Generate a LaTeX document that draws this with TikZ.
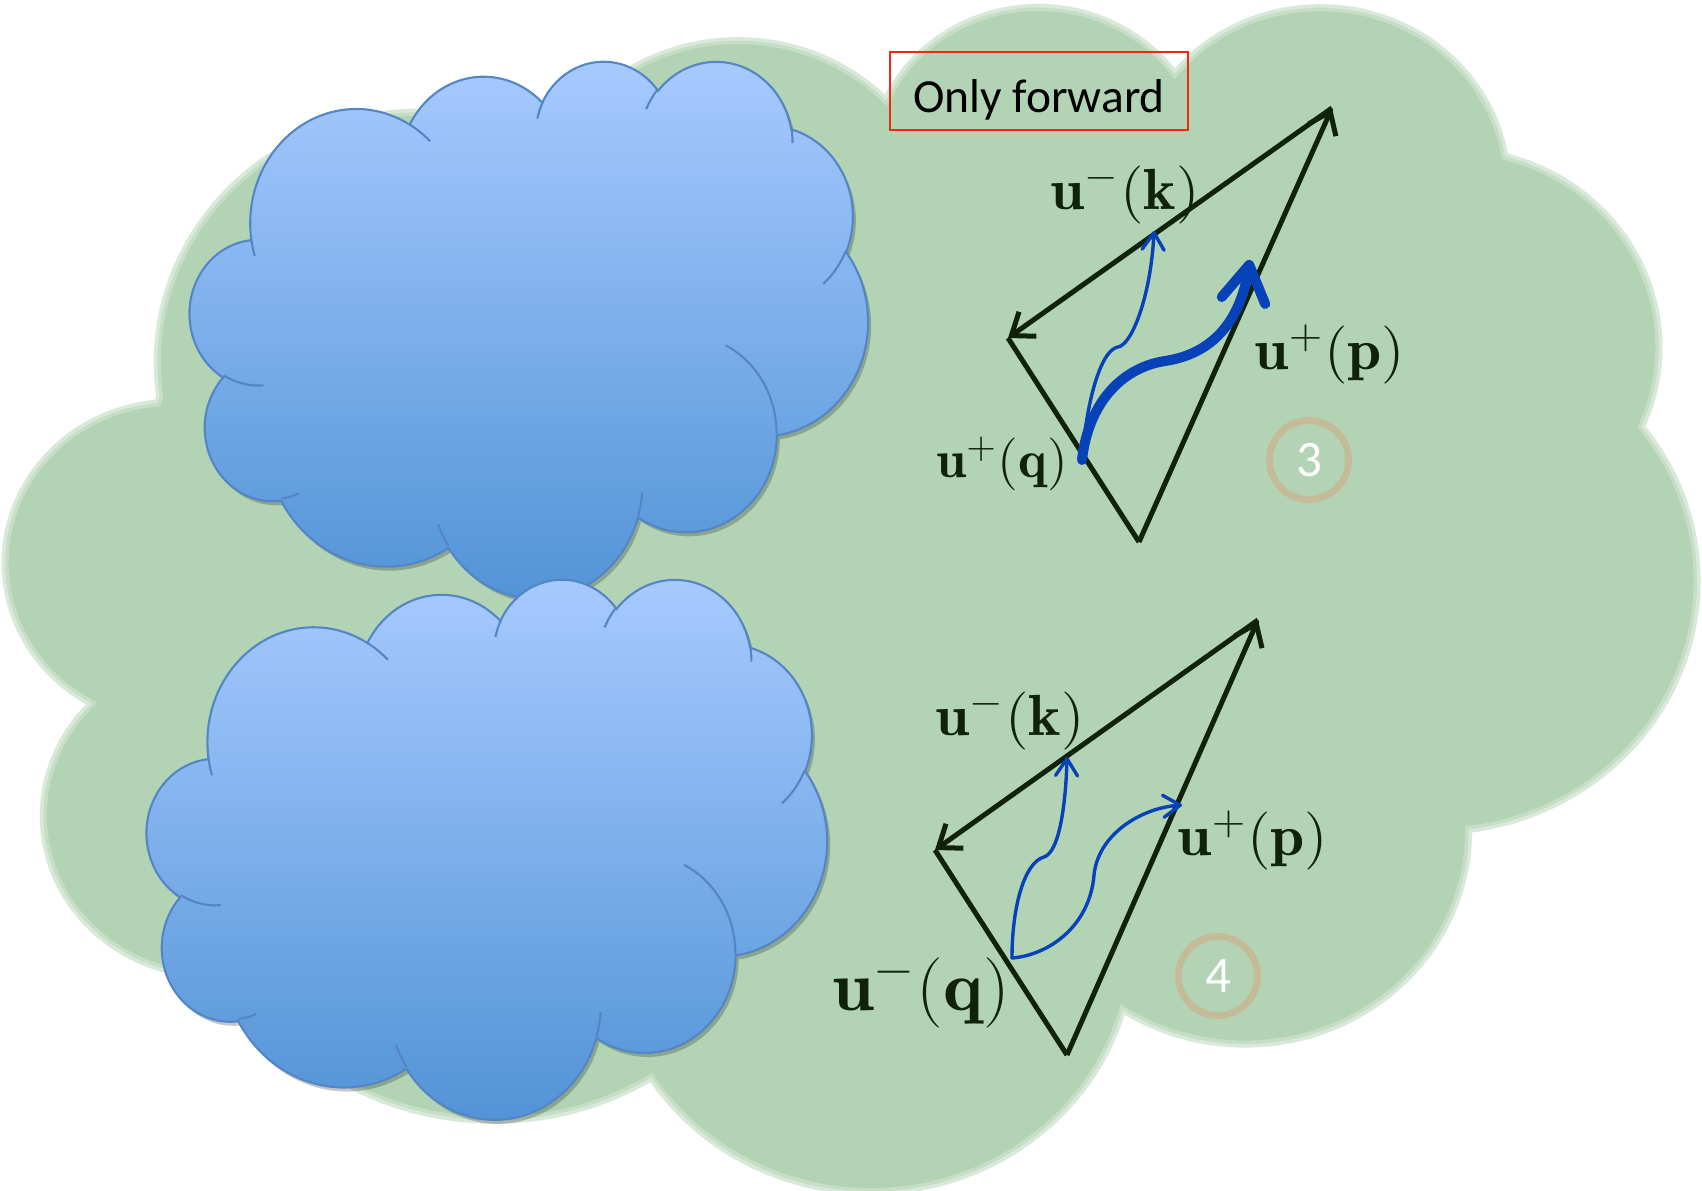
\RequirePackage{fix-cm}
\documentclass[tikz,border=0pt]{standalone}
\usepackage{fontspec}
\usepackage{amsmath,amssymb}
\usepackage{tikz}
\usetikzlibrary{arrows.meta}
\newfontfamily\calibri{Carlito}

\definecolor{bggreen}{RGB}{179,212,180}
\definecolor{blobtop}{RGB}{168,203,255}
\definecolor{blobbot}{RGB}{80,146,214}
\definecolor{blobedge}{RGB}{84,134,198}
\definecolor{vecgreen}{RGB}{16,34,10}
\definecolor{flowblue}{RGB}{8,66,184}
\definecolor{ringtan}{RGB}{196,188,152}
\definecolor{tagred}{RGB}{240,40,20}

%% ── cloud outline (office cloud, 4320 x 4320 box, angles in degrees) ────
\newcommand{\cloudarc}[4]{arc[x radius=#1, y radius=#2,
  start angle={atan2(#1*sin(#3),#2*cos(#3))},
  delta angle={mod(atan2(#1*sin(#3+#4),#2*cos(#3+#4))-atan2(#1*sin(#3),#2*cos(#3))+720,360)}]}
\newcommand{\cloudpath}{(390,1437)
  \cloudarc{675.3}{919.0}{-190.4875}{123.7805}
  \cloudarc{533.3}{726.7}{-144.1024}{89.9452}
  \cloudarc{436.5}{594.5}{-145.8079}{99.7230}
  \cloudarc{485.7}{659.5}{-130.9861}{117.2417}
  \cloudarc{533.3}{727.3}{-78.7089}{109.0269}
  \cloudarc{677.5}{922.0}{-46.2673}{130.2690}
  \cloudarc{578.5}{786.7}{0.6250}{114.0333}
  \cloudarc{675.2}{921.5}{22.4516}{115.1726}
  \cloudarc{772.0}{1054.3}{66.2426}{75.7110}
  \cloudarc{436.0}{591.8}{-274.9421}{146.7356}
  \cloudarc{434.5}{594.5}{-246.8285}{152.5189} -- cycle}
\newcommand{\cloudpuffs}{(469.3,2617.7) \cloudarc{434.5}{594.5}{86.7420}{26.4295}
  (692.8,3489.9) \cloudarc{436.0}{591.8}{73.6105}{11.4475}
  (1647.8,3909.0) \cloudarc{675.2}{921.5}{137.6242}{14.0811}
  (2882.7,3475.1) \cloudarc{675.2}{921.5}{6.4533}{15.9984}
  (3412.9,2295.4) \cloudarc{578.5}{786.7}{-70.2924}{70.9174}
  (4179.8,1535.4) \cloudarc{533.3}{727.3}{30.3180}{27.7515}
  (3832.4,542.6) \cloudarc{485.7}{659.5}{-13.7443}{14.8589}
  (2907.8,395.2) \cloudarc{485.7}{659.5}{-149.1815}{18.1954}
  (2214.1,472.0) \cloudarc{436.5}{594.5}{-163.4943}{17.6864}
  (1400.0,519.2) \cloudarc{675.3}{919.0}{-66.7070}{12.3194}
  (412.7,1578.9) \cloudarc{675.3}{919.0}{157.6544}{11.8582}}
% #1,#2 = top left corner, #3 = width, #4 = height, #5 = style
\newcommand{\drawcloud}[5]{%
  \pgfmathsetlengthmacro\cldw{#3*0.01cm/4320}%
  \pgfmathsetlengthmacro\cldh{#4*0.01cm/4320}%
  \begin{scope}[shift={(#1,#2)}, x=\cldw, y=-\cldh]
    \path[#5] \cloudpath;
  \end{scope}}
\newcommand{\drawpuffs}[5]{%
  \pgfmathsetlengthmacro\cldw{#3*0.01cm/4320}%
  \pgfmathsetlengthmacro\cldh{#4*0.01cm/4320}%
  \begin{scope}[shift={(#1,#2)}, x=\cldw, y=-\cldh]
    \path[#5] \cloudpuffs;
  \end{scope}}

\begin{document}
\begin{tikzpicture}[
  x=0.01cm, y=-0.01cm,
  vec/.style={draw=vecgreen, line width=0.05cm,
              -{Straight Barb[length=0.2cm, width=0.3cm]}},
  side/.style={draw=vecgreen, line width=0.05cm},
  flow/.style={draw=flowblue, line width=0.034cm, line cap=round,
               -{Straight Barb[round, length=0.17cm, width=0.22cm]}},
  bigflow/.style={draw=flowblue, line width=0.1cm, line cap=round,
                  -{Straight Barb[round, length=0.36cm, width=0.44cm]}},
  lab/.style={text=vecgreen, inner sep=0pt, font=\fontsize{16.5}{19}\selectfont},
  ring/.style={circle, draw=ringtan, line width=0.07cm, minimum size=0.79cm,
               inner sep=0pt, text=white, font=\calibri\fontsize{14.5}{16}\selectfont},
  tag/.style={draw=tagred, line width=0.02cm, minimum width=2.975cm,
              minimum height=0.78cm, inner sep=0pt, text height=12pt, text depth=0pt,
              font=\calibri\fontsize{13.5}{16}\selectfont},
  blob/.style={draw=blobedge, line width=0.6pt, top color=blobtop, bottom color=blobbot},
  blobline/.style={draw=blobedge, line width=0.6pt},
  blobshadow/.style={fill=black, opacity=0.22},
]

\fill[white] (0,0) rectangle (1702,1191);
\useasboundingbox (0,0) rectangle (1702,1191);

%% ── big green cloud (soft edge) ─────────────────────────────────────────
\drawcloud{3}{0}{1697}{1191}{fill=bggreen}
\drawcloud{3}{0}{1697}{1191}{draw=white, line width=0.14cm, opacity=0.25}
\drawcloud{3}{0}{1697}{1191}{draw=white, line width=0.07cm, opacity=0.35}

%% ── blue clouds (left) ──────────────────────────────────────────────────
\drawcloud{193}{64}{678}{537}{blobshadow}
\drawcloud{190}{60}{678}{537}{blob}
\drawpuffs{190}{60}{678}{537}{blobline}

\drawcloud{150}{582}{680}{540}{blobshadow}
\drawcloud{147}{578}{680}{540}{blob}
\drawpuffs{147}{578}{680}{540}{blobline}

%% ── Only forward ────────────────────────────────────────────────────────
\node[tag] (fwd) at (1039,91) {Only forward};

%% ── triangle 3 ──────────────────────────────────────────────────────────
\coordinate (a3) at (1332,108);
\coordinate (l3) at (1008,338);
\coordinate (b3) at (1139,542);

\draw[side] (l3) -- (b3);
\draw[vec] (b3) -- (a3);
\draw[vec] (a3) -- (l3);

\coordinate (q3) at (1082,460);
\coordinate (k3tip) at (1154,231);
\coordinate (p3tip) at (1250,260);

\draw[flow] (q3) .. controls (1086,405) and (1100,350) .. (1118,347)
  .. controls (1132,345) and (1151,295) .. (k3tip);
\draw[bigflow] (q3) .. controls (1088,405) and (1120,368) .. (1165,361)
  .. controls (1212,354) and (1240,322) .. (p3tip);

\node[lab] (lk3) at (1125,194) {\scalebox{1.06}[1]{$\mathbf{u}^{-}(\mathbf{k})$}};
\node[lab] (lp3) at (1330,354) {\scalebox{1.06}[1]{$\mathbf{u}^{+}(\mathbf{p})$}};
\node[lab, font=\fontsize{15}{17}\selectfont] (lq3) at (1002,464)
  {\scalebox{1.03}[1]{$\mathbf{u}^{+}(\mathbf{q})$}};
\node[ring] (three) at (1309,460) {3};

%% ── triangle 4 ──────────────────────────────────────────────────────────
\coordinate (a4) at (1258,620);
\coordinate (l4) at (935,850);
\coordinate (b4) at (1067,1055);

\draw[side] (l4) -- (b4);
\draw[vec] (b4) -- (a4);
\draw[vec] (a4) -- (l4);

\coordinate (q4) at (1012,958);
\coordinate (k4tip) at (1067,757);
\coordinate (p4tip) at (1182,805);

\draw[flow] (q4) .. controls (1012,905) and (1025,862) .. (1044,857)
  .. controls (1060,852) and (1066,800) .. (k4tip);
\draw[flow] (q4) .. controls (1050,955) and (1090,925) .. (1094,875)
  .. controls (1098,835) and (1140,808) .. (p4tip);

\node[lab] (lk4) at (1010,720) {\scalebox{1.06}[1]{$\mathbf{u}^{-}(\mathbf{k})$}};
\node[lab] (lp4) at (1253,840) {\scalebox{1.06}[1]{$\mathbf{u}^{+}(\mathbf{p})$}};
\node[lab, font=\fontsize{20}{23}\selectfont] (lq4) at (921,992)
  {\scalebox{1.07}[1]{$\mathbf{u}^{-}(\mathbf{q})$}};
\node[ring] (four) at (1218,976) {4};

\end{tikzpicture}
\end{document}
